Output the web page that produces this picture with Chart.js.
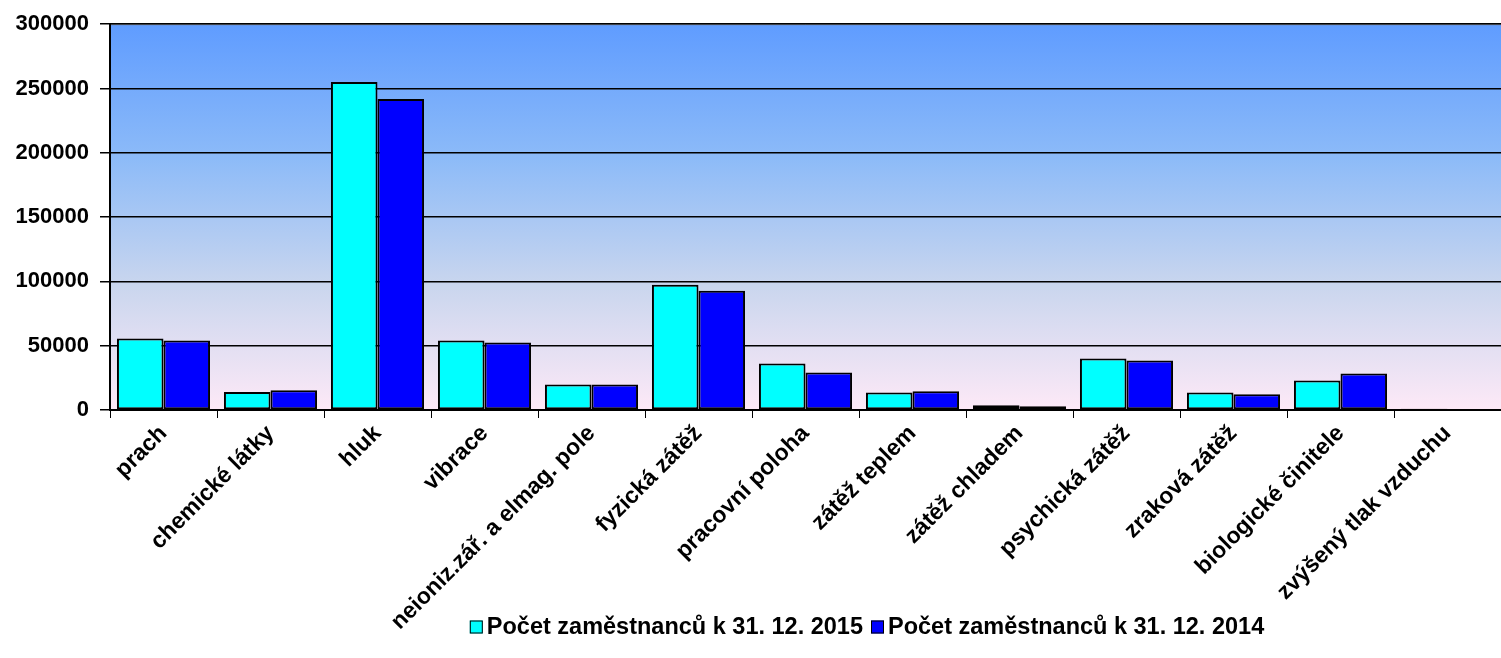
<!DOCTYPE html>
<html>
<head>
<meta charset="utf-8">
<script src="https://cdn.jsdelivr.net/npm/chart.js@4/dist/chart.umd.min.js"></script>
<style>
  html, body { margin: 0; padding: 0; background: #fff; }
  #wrap { width: 1501px; height: 658px; position: relative; }
</style>
</head>
<body>
<div id="wrap"><canvas id="chart"></canvas></div>
<script>
// data
const categories = ['prach', 'chemické látky', 'hluk', 'vibrace', 'neioniz.zář. a elmag. pole',
    'fyzická zátěž', 'pracovní poloha', 'zátěž teplem', 'zátěž chladem', 'psychická zátěž',
    'zraková zátěž', 'biologické činitele', 'zvýšený tlak vzduchu'];
const values2015 = [55600, 13900, 255000, 54000, 19900, 97400, 36200, 13700, 3600, 40000, 13700, 23000, 900];
const values2014 = [54000, 15300, 241800, 52500, 19900, 92800, 29200, 14500, 2900, 38500, 12200, 28400, 0];
const seriesNames = ['Počet zaměstnanců k 31. 12. 2015', 'Počet zaměstnanců k 31. 12. 2014'];
const yTicks = [0, 50000, 100000, 150000, 200000, 250000, 300000];

const FONT = 'Liberation Sans, Arial, sans-serif';

// pozadi plochy grafu (gradient) + horni sedy okraj
const plotBg = {
    id: 'plotBg',
    beforeDraw(chart) {
        const { ctx, chartArea: a } = chart;
        const g = ctx.createLinearGradient(0, a.top, 0, a.bottom);
        g.addColorStop(0, '#5f9cff');
        g.addColorStop(0.35, '#8dbbf8');
        g.addColorStop(0.68, '#cad6ee');
        g.addColorStop(1, '#fde9f7');
        ctx.save();
        ctx.fillStyle = g;
        ctx.fillRect(a.left, a.top, a.right - a.left, a.bottom - a.top);
        ctx.strokeStyle = '#808080';
        ctx.lineWidth = 1;
        ctx.beginPath();
        ctx.moveTo(a.left, a.top + 0.5);
        ctx.lineTo(a.right, a.top + 0.5);
        ctx.stroke();
        ctx.restore();
    }
};

// legenda dole (prekryva se s popisky osy jako v originalu)
const bottomLegend = {
    id: 'bottomLegend',
    afterDraw(chart) {
        const ctx = chart.ctx;
        const ds = chart.data.datasets;
        ctx.save();
        ctx.font = 'bold 23.5px ' + FONT;
        ctx.textBaseline = 'middle';
        const box = 13, gap = 4, sep = 8;
        let total = 0;
        ds.forEach((d, i) => {
            total += box + gap + ctx.measureText(d.label).width + (i < ds.length - 1 ? sep : 0);
        });
        let x = 867 - total / 2;
        const y = 627;
        ds.forEach(d => {
            ctx.fillStyle = d.backgroundColor;
            ctx.fillRect(x, y - box / 2, box, box);
            ctx.strokeStyle = '#000';
            ctx.lineWidth = 1;
            ctx.strokeRect(x + 0.5, y - box / 2 + 0.5, box - 1, box - 1);
            x += box + gap;
            ctx.fillStyle = '#000';
            ctx.fillText(d.label, x, y + 1);
            x += ctx.measureText(d.label).width + sep;
        });
        ctx.restore();
    }
};

new Chart(document.getElementById('chart'), {
    type: 'bar',
    data: {
        labels: categories,
        datasets: [
            {
                label: seriesNames[0],
                data: values2015,
                backgroundColor: '#00ffff',
                borderColor: '#000',
                borderWidth: 2,
                borderSkipped: false
            },
            {
                label: seriesNames[1],
                data: values2014,
                backgroundColor: '#0000ff',
                borderColor: '#000',
                borderWidth: 2,
                borderSkipped: false
            }
        ]
    },
    options: {
        responsive: true,
        maintainAspectRatio: false,
        animation: false,
        layout: { padding: { top: 23, right: 0, left: 0, bottom: 0 } },
        datasets: { bar: { barPercentage: 1, categoryPercentage: 0.87 } },
        plugins: {
            legend: { display: false },
            tooltip: { enabled: false }
        },
        scales: {
            x: {
                afterFit: s => { s.height = 248; },
                grid: { display: true, drawOnChartArea: false, color: '#000', tickLength: 8, offset: true },
                border: { color: '#000', width: 2 },
                ticks: {
                    color: '#000',
                    font: { family: FONT, size: 23, weight: 'bold' },
                    minRotation: 45,
                    maxRotation: 45,
                    autoSkip: false,
                    padding: 2
                }
            },
            y: {
                min: 0,
                max: 300000,
                afterFit: s => { s.width = 110; },
                afterBuildTicks: s => { s.ticks = yTicks.map(v => ({ value: v })); },
                grid: { color: '#000', lineWidth: 1.5, tickLength: 10 },
                border: { color: '#000', width: 2 },
                ticks: {
                    color: '#000',
                    font: { family: FONT, size: 22, weight: 'bold' },
                    padding: 11,
                    callback: v => String(v)
                }
            }
        }
    },
    plugins: [plotBg, bottomLegend]
});
</script>
</body>
</html>
